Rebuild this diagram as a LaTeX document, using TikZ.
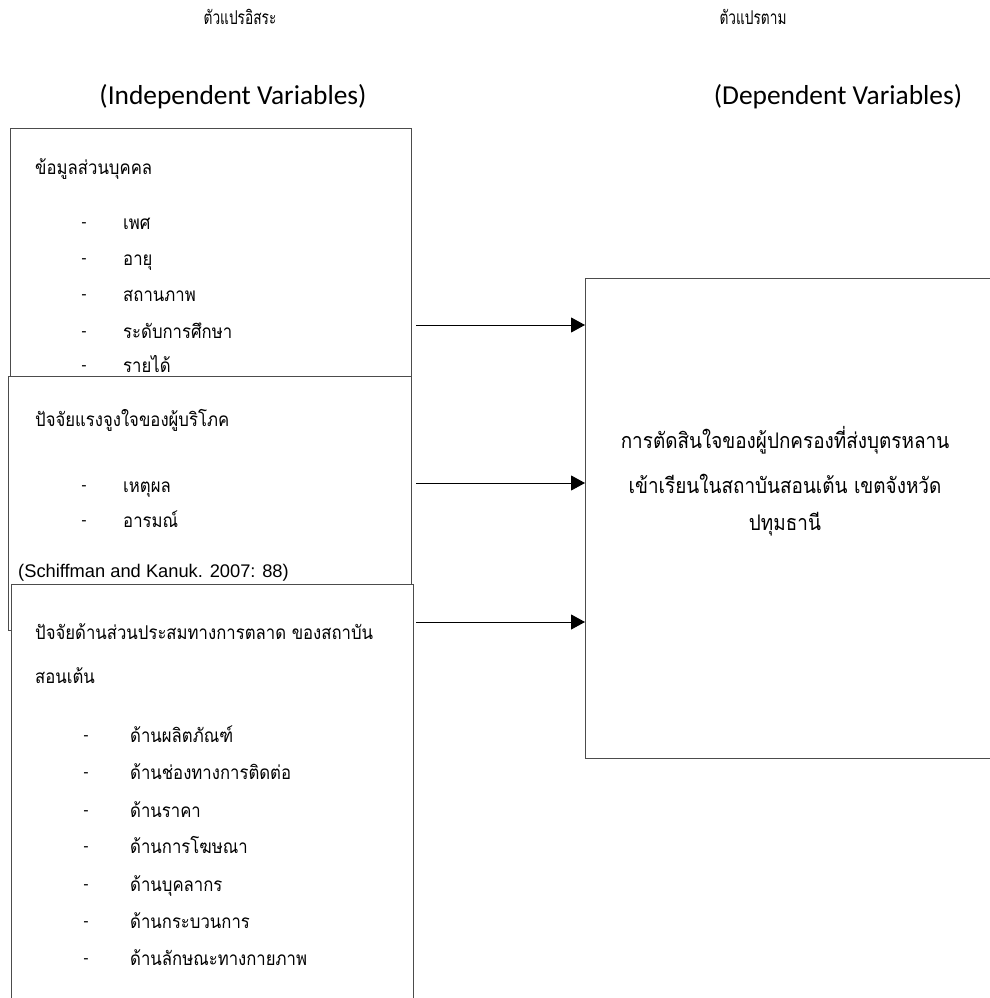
\documentclass[tikz,border=0pt]{standalone}
\usepackage{fontspec}
\setmainfont{Liberation Sans}
\newfontfamily\thaifont[Script=Thai, FakeStretch=0.88]{Loma}
\newfontfamily\thaihead[Script=Thai, FakeStretch=0.72]{Loma}
\newfontfamily\titlefont{Carlito}
\usetikzlibrary{arrows.meta}

\begin{document}
\begin{tikzpicture}[x=1pt,y=-1pt,
  frame/.style={draw=black!70, line width=1.3pt, fill=white, rectangle,
                anchor=north west, inner sep=0pt},
  th/.style={font=\thaifont\fontsize{19}{22}\selectfont, anchor=base west, inner sep=0pt},
  thc/.style={font=\thaifont\fontsize{21.5}{24}\selectfont, anchor=base, inner sep=0pt},
  dashmark/.style={font=\fontsize{16}{18}\selectfont, anchor=center, inner sep=0pt},
  cite/.style={font=\fontsize{18.3}{20}\selectfont, anchor=base west, inner sep=0pt},
  head/.style={font=\thaihead\fontsize{19}{22}\selectfont, inner sep=0pt},
  title/.style={font=\titlefont\fontsize{27.4}{30}\selectfont, inner sep=0pt},
  link/.style={draw=black, line width=1pt, -{Triangle[length=14pt,width=15pt]}}
]
\useasboundingbox (0,0) rectangle (989,998);

% column headings
\node[head]  (hIndep) at (240,17) {ตัวแปรอิสระ};
\node[head]  (hDep)   at (753,17) {ตัวแปรตาม};
\node[title] (tIndep) at (233,97) {(Independent Variables)};
\node[title] (tDep)   at (838,97) {(Dependent Variables)};

% stacked boxes of independent variables (later ones drawn on top)
\node[frame, minimum width=401, minimum height=260] (personal) at (10,128) {};
\node[frame, minimum width=403, minimum height=254] (motive)   at (8,376) {};
\node[frame, minimum width=402, minimum height=440] (mix)      at (11,584) {};

% dependent variable box
\node[frame, minimum width=420, minimum height=480] (decision) at (585,278) {};

% personal data
\node[th] (p0) at (35,174) {ข้อมูลส่วนบุคคล};
\foreach \y/\t [count=\i] in {229/เพศ, 265/อายุ, 301/สถานภาพ, 338/ระดับการศึกษา, 372/รายได้}{
  \node[dashmark] (pd\i) at (84,\y-4) {-};
  \node[th] (p\i) at (123,\y) {\t};
}

% consumer motives
\node[th] (m0) at (35,426) {ปัจจัยแรงจูงใจของผู้บริโภค};
\foreach \y/\t [count=\i] in {492/เหตุผล, 527/อารมณ์}{
  \node[dashmark] (md\i) at (84,\y-4) {-};
  \node[th] (m\i) at (123,\y) {\t};
}
\node[cite] (mcite) at (18,577) {(Schiffman and Kanuk. 2007: 88)};

% marketing mix
\node[th] (x0a) at (35,639) {ปัจจัยด้านส่วนประสมทางการตลาด ของสถาบัน};
\node[th] (x0b) at (35,683) {สอนเต้น};
\foreach \y/\t [count=\i] in {742/ด้านผลิตภัณฑ์, 779/ด้านช่องทางการติดต่อ, 817/ด้านราคา, 853/ด้านการโฆษณา, 891/ด้านบุคลากร, 928/ด้านกระบวนการ, 965/ด้านลักษณะทางกายภาพ}{
  \node[dashmark] (xd\i) at (86,\y-4) {-};
  \node[th] (x\i) at (130,\y) {\t};
}

% decision text
\node[thc] (d1) at (785,448) {การตัดสินใจของผู้ปกครองที่ส่งบุตรหลาน};
\node[thc] (d2) at (785,493) {เข้าเรียนในสถาบันสอนเต้น เขตจังหวัด};
\node[thc] (d3) at (785,530) {ปทุมธานี};

% connectors
\coordinate (s1) at (416,325);
\coordinate (s2) at (416,483);
\coordinate (s3) at (416,622);
\draw[link] (s1) -- (s1 -| decision.west);
\draw[link] (s2) -- (s2 -| decision.west);
\draw[link] (s3) -- (s3 -| decision.west);
\end{tikzpicture}
\end{document}
